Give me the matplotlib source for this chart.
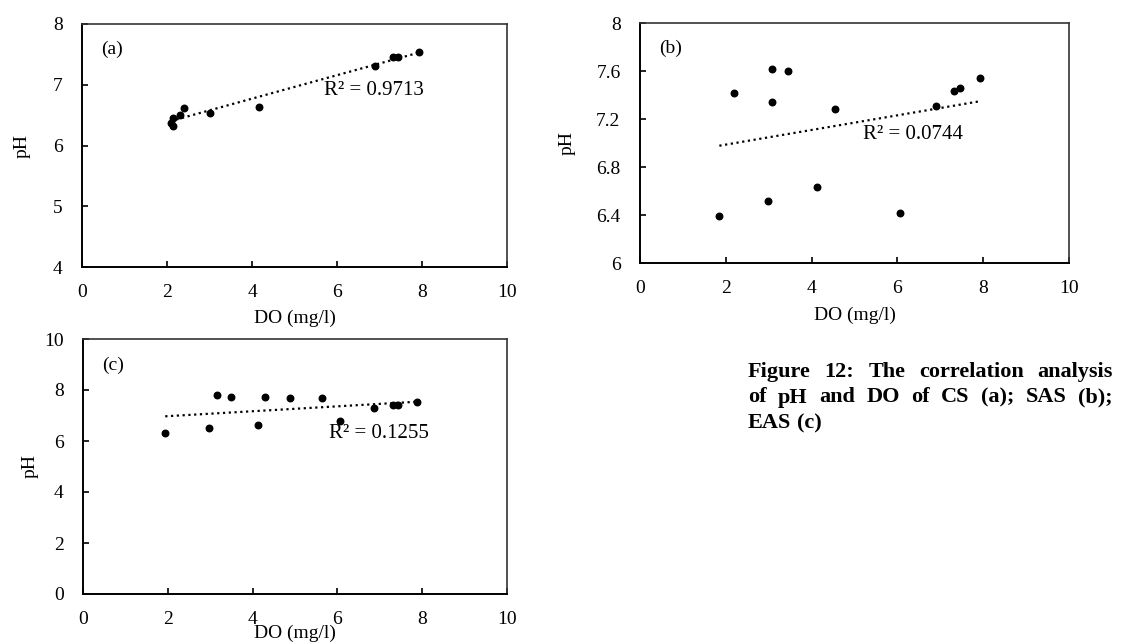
import numpy as np
import matplotlib

matplotlib.use("Agg")
import matplotlib.pyplot as plt

plt.rcParams["font.family"] = ["Liberation Serif", "DejaVu Serif"]
plt.rcParams["mathtext.fontset"] = "stix"

# (a) CS
do_a = [2.09, 2.13, 2.13, 2.31, 2.41, 3.00, 4.16, 6.90, 7.32, 7.44, 7.92]
ph_a = [6.37, 6.32, 6.46, 6.51, 6.62, 6.54, 6.64, 7.31, 7.45, 7.46, 7.54]
# (b) SAS
do_b = [1.85, 2.18, 2.98, 3.08, 3.08, 3.46, 4.13, 4.55, 6.06, 6.90, 7.33, 7.46, 7.93]
ph_b = [6.39, 7.42, 6.52, 7.62, 7.34, 7.60, 6.63, 7.28, 6.42, 7.31, 7.43, 7.46, 7.54]
# (c) EAS
do_c = [1.94, 2.96, 3.15, 3.50, 4.13, 4.30, 4.89, 5.63, 6.06, 6.86, 7.31, 7.44, 7.87]
ph_c = [6.31, 6.51, 7.79, 7.74, 6.61, 7.74, 7.68, 7.68, 6.77, 7.29, 7.43, 7.43, 7.54]

r2_labels = ["R² = 0.9713", "R² = 0.0744", "R² = 0.1255"]
panel_tags = ["(a)", "(b)", "(c)"]
x_ticks = [0, 2, 4, 6, 8, 10]
y_ticks_a = [4, 5, 6, 7, 8]
y_ticks_b = [6, 6.4, 6.8, 7.2, 7.6, 8]
y_ticks_c = [0, 2, 4, 6, 8, 10]

caption_lines = [
    "Figure 12: The correlation analysis",
    "of pH and DO of CS (a); SAS (b);",
    "EAS (c)",
]

fig = plt.figure(figsize=(11.26, 6.44), dpi=100)

specs = [
    # rect, x, y, yticks, R2 text pos, ylabel x (fig), xlabel y (fig)
    ([82 / 1126, 1 - 267 / 644, 425 / 1126, 243 / 644], do_a, ph_a, y_ticks_a, (5.7, 6.9), 22, 318),
    ([640 / 1126, 1 - 263 / 644, 429 / 1126, 240 / 644], do_b, ph_b, y_ticks_b, (5.2, 7.07), 567, 315),
    ([83 / 1126, 1 - 594 / 644, 424 / 1126, 255 / 644], do_c, ph_c, y_ticks_c, (5.8, 6.3), 30, 633),
]

for i, (rect, xs, ys, yt, r2pos, ylx, xly) in enumerate(specs):
    ax = fig.add_axes(rect)
    ax.scatter(xs, ys, s=22, color="black", zorder=3)
    k, b = np.polyfit(xs, ys, 1)
    xl = np.array([min(xs), max(xs)])
    ax.plot(xl, k * xl + b, color="black", linestyle=(0, (1, 1.6)), linewidth=1.6)
    ax.set_xlim(0, 10)
    ax.set_ylim(yt[0], yt[-1])
    ax.set_xticks(x_ticks)
    ax.set_yticks(yt)
    ax.set_yticklabels([f"{v:g}" for v in yt])
    ax.tick_params(direction="in", length=4, width=1.2, labelsize=14)
    ax.tick_params(axis="y", pad=14)
    ax.tick_params(axis="x", pad=12)
    for side in ["left", "bottom"]:
        ax.spines[side].set_linewidth(1.4)
    for side in ["top", "right"]:
        ax.spines[side].set_linewidth(1.2)
        ax.spines[side].set_color("#333333")
    ax.text(0.045, 0.93, panel_tags[i], transform=ax.transAxes, fontsize=14,
            va="top", ha="left")
    ax.text(r2pos[0], r2pos[1], r2_labels[i], fontsize=15, va="center", ha="left")
    fig.text(ylx / 1126, (rect[1] + rect[3] / 2), "pH", rotation=90,
             fontsize=14, ha="center", va="center")
    fig.text(rect[0] + rect[2] / 2, 1 - xly / 644, "DO (mg/l)", fontsize=14,
             ha="center", va="center")

# justified bold caption
renderer = fig.canvas.get_renderer()
x0, x1 = 748 / 1126, 1113 / 1126
baselines = [377, 402.5, 428]
for li, line in enumerate(caption_lines):
    yb = 1 - baselines[li] / 644
    words = line.split(" ")
    texts = [fig.text(0, yb, w, fontsize=16, fontweight="bold",
                      ha="left", va="baseline") for w in words]
    widths = [t.get_window_extent(renderer).width / fig.bbox.width for t in texts]
    if li < len(caption_lines) - 1 and len(words) > 1:
        gap = (x1 - x0 - sum(widths)) / (len(words) - 1)
    else:
        sp = fig.text(0, 0, "a a", fontsize=16, fontweight="bold")
        sp2 = fig.text(0, 0, "aa", fontsize=16, fontweight="bold")
        gap = (sp.get_window_extent(renderer).width - sp2.get_window_extent(renderer).width) / fig.bbox.width
        sp.remove()
        sp2.remove()
    x = x0
    for t, w in zip(texts, widths):
        t.set_x(x)
        x += w + gap

fig.savefig("out.png", dpi=100)
